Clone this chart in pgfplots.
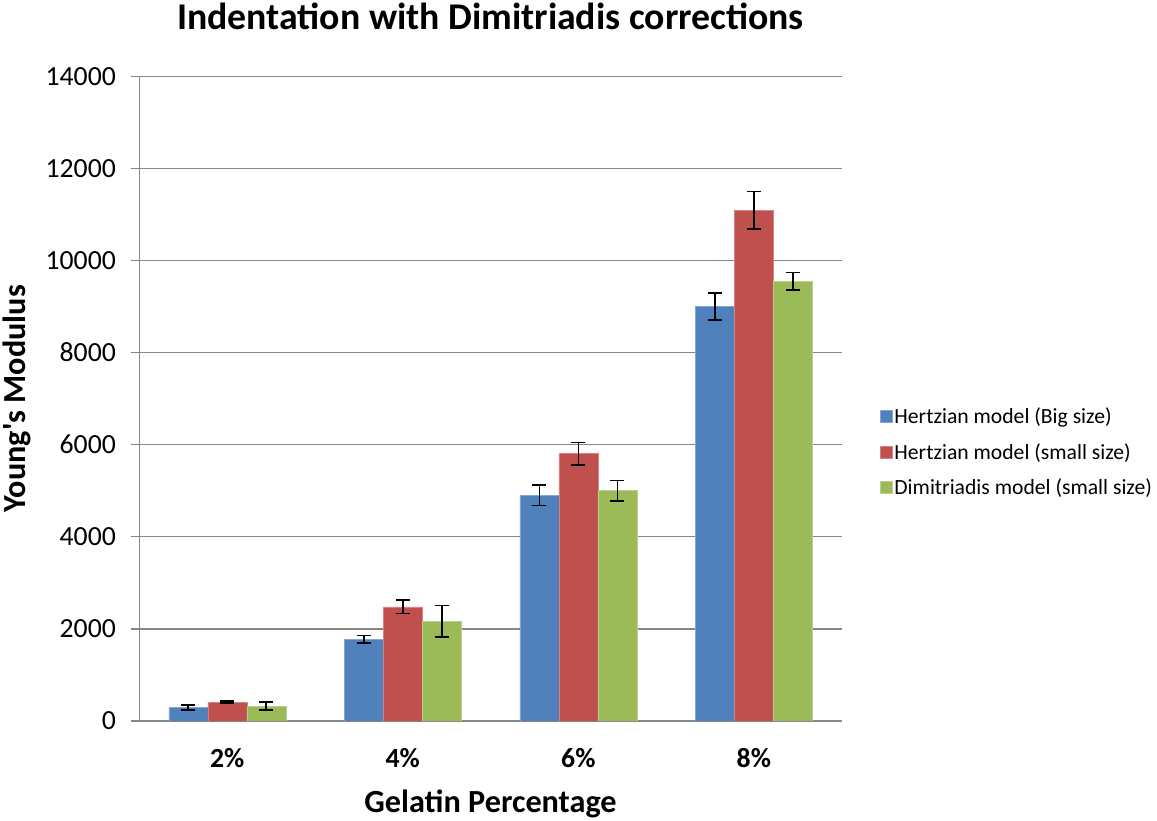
\documentclass[border=0pt]{standalone}
\usepackage{fontspec}
\setmainfont{Carlito}
\newfontfamily\plainfont{Carlito}
\usepackage{pgfplots}
\pgfplotsset{compat=1.18}
\definecolor{cblue}{HTML}{4F81BD}
\definecolor{cred}{HTML}{C0504D}
\definecolor{cgreen}{HTML}{9BBB59}
\definecolor{cgrid}{HTML}{878787}
\begin{document}
\begin{tikzpicture}
\begin{axis}[
  scale only axis, width=697pt, height=640pt,
  xmin=-0.5, xmax=3.5, ymin=0, ymax=14000,
  xtick={0,1,2,3}, xticklabels={2\%,4\%,6\%,8\%},
  ytick={0,2000,...,14000},
  scaled y ticks=false,
  /pgf/number format/assume math mode=true,
  yticklabel={\pgfmathprintnumber[fixed,1000 sep={}]{\tick}},
  ymajorgrids, grid style={cgrid, line width=1.3pt},
  axis line style={cgrid, line width=1.3pt},
  axis x line*=bottom, axis y line*=left,
  x axis line style={-}, y axis line style={-},
  xtick style={draw=none},
  ytick style={cgrid, line width=1.3pt},
  tick align=outside, major tick length=8pt,
  ticklabel style={font=\fontsize{27.5}{32}\selectfont},
  xticklabel style={font=\fontsize{27.5}{32}\selectfont\bfseries, anchor=center, yshift=-29pt},
  yticklabel style={xshift=-12pt},
  xlabel={Gelatin Percentage}, ylabel={Young{\plainfont\bfseries '}s Modulus},
  label style={font=\fontsize{32}{38}\bfseries\selectfont},
  xlabel style={at={(axis description cs:0.5,-0.128)}, anchor=center},
  ylabel style={at={(axis description cs:-0.174,0.5)}, anchor=center},
  title={Indentation with Dimitriadis corrections},
  title style={font=\fontsize{37.5}{44}\bfseries\selectfont, at={(axis description cs:0.5,1.083)}, anchor=center},
  ybar, bar width=0.2222,
  legend style={at={(1.05,0.417)}, anchor=west, draw=none, fill=none,
    font=\fontsize{21.5}{26}\selectfont, row sep=14pt, legend cell align=left,
    /tikz/every even column/.append style={column sep=4pt}},
  legend image code/.code={\fill[#1] (0pt,-6pt) rectangle (12pt,6pt);},
  error bars/y dir=both, error bars/y explicit,
  error bars/error bar style={black, line width=1.6pt},
  error bars/error mark options={black, rotate=90, mark size=7pt, line width=1.6pt},
]
\addplot[fill=cblue, draw=cblue!70!white, bar shift=-0.2222] coordinates {
 (0,290) +- (0,50)
 (1,1772) +- (0,85)
 (2,4900) +- (0,220)
 (3,9000) +- (0,290)
};
\addplot[fill=cred, draw=cred!70!white, bar shift=0] coordinates {
 (0,410) +- (0,20)
 (1,2480) +- (0,150)
 (2,5805) +- (0,240)
 (3,11092) +- (0,410)
};
\addplot[fill=cgreen, draw=cgreen!70!white, bar shift=0.2222] coordinates {
 (0,320) +- (0,85)
 (1,2166) +- (0,345)
 (2,5003) +- (0,220)
 (3,9553) +- (0,190)
};
\legend{Hertzian model (Big size),Hertzian model (small size),Dimitriadis model (small size)}
\end{axis}
\end{tikzpicture}
\end{document}
